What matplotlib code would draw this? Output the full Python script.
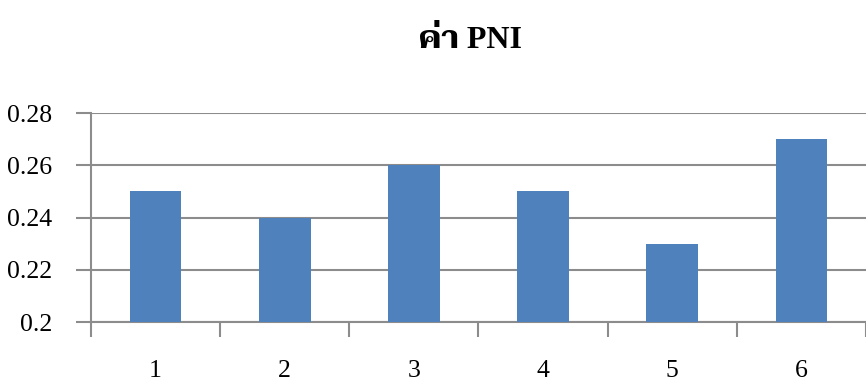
import matplotlib
matplotlib.use("Agg")
import matplotlib.pyplot as plt
import numpy as np

# values
categories = ["1", "2", "3", "4", "5", "6"]
pni_values = [0.25, 0.24, 0.26, 0.25, 0.23, 0.27]
y_ticks = [0.20, 0.22, 0.24, 0.26, 0.28]
y_tick_labels = ["0.2", "0.22", "0.24", "0.26", "0.28"]
title = "ค่า PNI"

serif = ["Liberation Serif", "Taviraj", "Noto Serif Thai", "Noto Sans Thai"]
grid_color = "#8C8C8C"
bar_color = "#4F81BD"

fig = plt.figure(figsize=(8.66, 3.82), dpi=100)
ax = fig.add_axes([91 / 866, 60 / 382, 775 / 866, 209 / 382])

x = np.arange(len(categories))
ax.bar(x, pni_values, width=0.4, color=bar_color, zorder=3)

ax.set_xlim(-0.5, len(categories) - 0.5)
ax.set_ylim(0.2, 0.28)

ax.set_yticks(y_ticks)
ax.set_yticklabels(y_tick_labels, fontfamily=serif, fontsize=18.5)
ax.yaxis.grid(True, color=grid_color, linewidth=1.5, zorder=0)
ax.tick_params(axis="y", length=11, width=1.5, color=grid_color, pad=17)

# category boundaries carry the x ticks, labels sit well below
ax.set_xticks(np.arange(len(categories) + 1) - 0.5)
ax.set_xticklabels([])
ax.set_xticks(x, minor=True)
ax.set_xticklabels(categories, minor=True, fontfamily=serif, fontsize=18.5)
ax.tick_params(axis="x", which="major", length=11, width=1.5, color=grid_color)
ax.tick_params(axis="x", which="minor", length=0, pad=27.5)

for side in ["top", "right"]:
    ax.spines[side].set_visible(False)
for side in ["left", "bottom"]:
    ax.spines[side].set_color(grid_color)
    ax.spines[side].set_linewidth(1.5)

fig.text(0.543, 0.895, title, ha="center", va="center", fontsize=23,
         fontweight="bold", family=serif)

fig.savefig("out.png", dpi=100)
